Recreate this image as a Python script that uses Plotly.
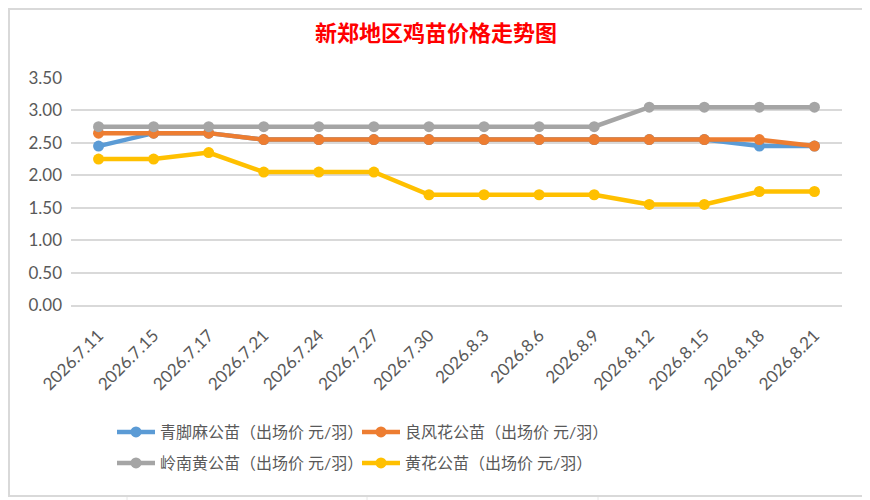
import plotly.graph_objects as go

# 采集日期
dates = ["2026.7.11", "2026.7.15", "2026.7.17", "2026.7.21", "2026.7.24",
         "2026.7.27", "2026.7.30", "2026.8.3", "2026.8.6", "2026.8.9",
         "2026.8.12", "2026.8.15", "2026.8.18", "2026.8.21"]

# 各品种出场价 元/羽
qingjiaoma = [2.45, 2.65, 2.65, 2.55, 2.55, 2.55, 2.55, 2.55, 2.55, 2.55, 2.55, 2.55, 2.45, 2.45]
liangfenghua = [2.65, 2.65, 2.65, 2.55, 2.55, 2.55, 2.55, 2.55, 2.55, 2.55, 2.55, 2.55, 2.55, 2.45]
lingnanhuang = [2.75, 2.75, 2.75, 2.75, 2.75, 2.75, 2.75, 2.75, 2.75, 2.75, 3.05, 3.05, 3.05, 3.05]
huanghua = [2.25, 2.25, 2.35, 2.05, 2.05, 2.05, 1.70, 1.70, 1.70, 1.70, 1.55, 1.55, 1.75, 1.75]

y_ticks = [0, 0.5, 1.0, 1.5, 2.0, 2.5, 3.0, 3.5]

series = [
    ("青脚麻公苗（出场价 元/羽）", qingjiaoma, "#5B9BD5"),
    ("良风花公苗（出场价 元/羽）", liangfenghua, "#ED7D31"),
    ("岭南黄公苗（出场价 元/羽）", lingnanhuang, "#A5A5A5"),
    ("黄花公苗（出场价 元/羽）", huanghua, "#FFC000"),
]

FONT = "Lato, 'Noto Sans CJK SC', sans-serif"
TXT = "#595959"

# the page body has an 8px margin, so work in screen pixels and shift
OFF = 8
FW, FH = 870 - OFF, 500 - OFF
# plot area in screen pixels: x 71..842, y 78..305
L, R, T, B = 71, 842, 78, 305
W, H = R - L, B - T


def px(p):
    return (p - L) / W


def py(p):
    return (B - p) / H


# one legend per entry, so the 2x2 grid lines up like the original
legend_pos = [(112, 432), (357, 432), (112, 463), (357, 463)]
legend_ids = ["legend", "legend2", "legend3", "legend4"]

fig = go.Figure()
for (name, vals, color), lid in zip(series, legend_ids):
    fig.add_trace(go.Scatter(
        x=dates, y=vals, name=name, mode="lines+markers",
        line=dict(color=color, width=4.5),
        marker=dict(color=color, size=11),
        legend=lid,
    ))

legends = {}
for lid, (lx, ly) in zip(legend_ids, legend_pos):
    legends[lid] = dict(x=px(lx), xanchor="left", y=py(ly), yanchor="middle",
                        itemwidth=38, font=dict(size=16, color=TXT),
                        bgcolor="rgba(0,0,0,0)")

shapes = []
grid_col = "#e6e6e6"
# spreadsheet cells behind the chart
for r in range(12, 14):
    yy = 20 + 36 * r
    shapes.append(dict(type="line", xref="paper", yref="paper", layer="below",
                       x0=px(866), x1=px(870), y0=py(yy), y1=py(yy),
                       line=dict(color=grid_col, width=1)))
for xx in [127, 367, 598]:
    shapes.append(dict(type="line", xref="paper", yref="paper", layer="below",
                       x0=px(xx), x1=px(xx), y0=py(496), y1=py(500),
                       line=dict(color=grid_col, width=1)))
# chart frame
shapes.append(dict(type="rect", xref="paper", yref="paper", layer="below",
                   x0=px(9), x1=px(866), y0=py(496), y1=py(9),
                   line=dict(color="#d9d9d9", width=2)))

fig.update_layout(
    width=FW, height=FH,
    margin=dict(l=L - OFF, r=870 - R, t=T - OFF, b=500 - B, autoexpand=False),
    paper_bgcolor="white", plot_bgcolor="white",
    font=dict(family=FONT, color=TXT, size=16),
    title=dict(text="<b>新郑地区鸡苗价格走势图</b>", x=(436 - OFF) / FW, xanchor="center",
               y=1 - (33 - OFF) / FH, yanchor="middle",
               font=dict(family="'Noto Sans CJK SC', serif", size=22, color="#FF0000")),
    xaxis=dict(type="category", tickangle=-45, showgrid=False, showline=True,
               linecolor="#d9d9d9", linewidth=1.5, ticks="", ticklabelstandoff=12,
               tickfont=dict(size=17, color=TXT), range=[-0.5, len(dates) - 0.5]),
    yaxis=dict(range=[0, 3.5], tickvals=y_ticks, tickformat=".2f",
               showgrid=True, gridcolor="#d9d9d9", gridwidth=1.5,
               zeroline=False, showline=False, ticks="", ticklabelstandoff=8,
               tickfont=dict(size=17, color=TXT)),
    shapes=shapes,
    showlegend=True,
    **legends,
)

fig.write_html("out.html")
